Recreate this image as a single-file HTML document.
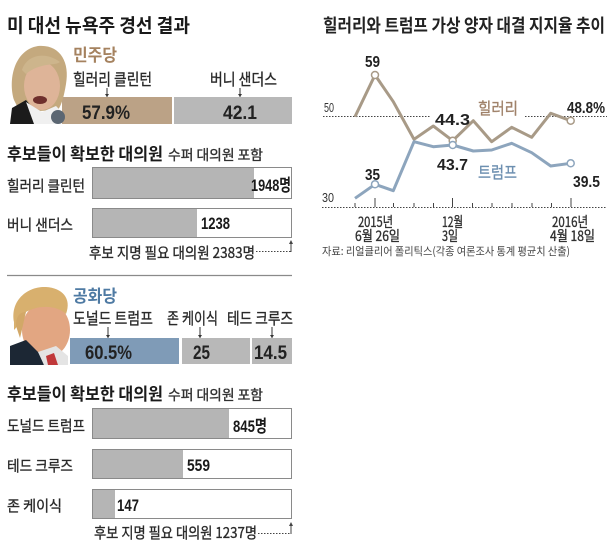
<!DOCTYPE html>
<html><head><meta charset="utf-8"><style>
html,body{margin:0;padding:0;background:#fff;}
svg{display:block;}
text{font-family:"Liberation Sans","Noto Sans CJK KR",sans-serif;}
.k{font-family:"Noto Sans CJK KR","Liberation Sans",sans-serif;}
.m{stroke:#2a2a2a;stroke-width:0.35px;}
</style></head><body>
<svg width="616" height="555" viewBox="0 0 616 555" xmlns="http://www.w3.org/2000/svg">
<rect width="616" height="555" fill="#fff"/>

<!-- LEFT TITLE -->
<text class="k" x="7" y="32" font-size="19" font-weight="bold" fill="#1a1a1a" textLength="183" lengthAdjust="spacingAndGlyphs">미 대선 뉴욕주 경선 결과</text>

<!-- Democratic bars -->
<rect x="62" y="97" width="110" height="27" fill="#bba286"/>
<rect x="174" y="97" width="118" height="27" fill="#b8b8b8"/>
<!-- Hillary photo -->
<g>
<path d="M14 100 C8 80 14 50 38 46 C60 44 70 62 66 84 C64 96 62 104 58 110 L20 112 Z" fill="#c4a97e"/>
<ellipse cx="42" cy="86" rx="18" ry="24" fill="#deb498"/>
<path d="M22 70 C26 56 44 50 60 62 C56 66 40 62 26 74 Z" fill="#cdb58c"/>
<ellipse cx="40" cy="100" rx="7" ry="4" fill="#6e2f2c"/>
<path d="M10 124 L12 108 L26 100 L36 112 L34 124 Z" fill="#1b1b1b"/>
<path d="M26 102 L42 112 L56 106 L62 112 L56 124 L34 124 Z" fill="#f0f0f0"/>
<ellipse cx="58" cy="117" rx="7" ry="7" fill="#5b6672"/>
</g>
<text class="k" x="73" y="61" font-size="17" font-weight="bold" fill="#a5825f" textLength="44" lengthAdjust="spacingAndGlyphs">민주당</text>
<text class="k m" x="73" y="85" font-size="16" fill="#2a2a2a" textLength="79" lengthAdjust="spacingAndGlyphs">힐러리 클린턴</text>
<text class="k m" x="210" y="85" font-size="16" fill="#2a2a2a" textLength="67" lengthAdjust="spacingAndGlyphs">버니 샌더스</text>
<line x1="107" y1="88" x2="107" y2="97" stroke="#333" stroke-width="1"/>
<path d="M105 94 L109 94 L107 97 Z" fill="#333"/>
<line x1="240" y1="88" x2="240" y2="97" stroke="#333" stroke-width="1"/>
<path d="M238 94 L242 94 L240 97 Z" fill="#333"/>
<text x="82" y="119" font-size="19" font-weight="bold" fill="#222" textLength="48" lengthAdjust="spacingAndGlyphs">57.9%</text>
<text x="223" y="119" font-size="19" font-weight="bold" fill="#222" textLength="34" lengthAdjust="spacingAndGlyphs">42.1</text>

<!-- Delegates (Dem) -->
<text class="k" x="7" y="160" font-size="17" font-weight="bold" fill="#1a1a1a" textLength="156" lengthAdjust="spacingAndGlyphs">후보들이 확보한 대의원</text>
<text class="k m" x="168" y="160" font-size="14" fill="#333" textLength="95" lengthAdjust="spacingAndGlyphs">수퍼 대의원 포함</text>

<rect x="92.5" y="167.5" width="199" height="31" fill="#fff" stroke="#8a8a8a" stroke-width="1"/>
<rect x="93" y="168" width="161" height="30" fill="#b5b5b5"/>
<text class="k m" x="7" y="191" font-size="15" fill="#2a2a2a" textLength="78" lengthAdjust="spacingAndGlyphs">힐러리 클린턴</text>
<text x="251" y="191" font-size="17" font-weight="bold" fill="#1a1a1a" textLength="40" lengthAdjust="spacingAndGlyphs">1948명</text>

<rect x="92.5" y="208.5" width="199" height="29" fill="#fff" stroke="#8a8a8a" stroke-width="1"/>
<rect x="93" y="209" width="104" height="28" fill="#b5b5b5"/>
<text class="k m" x="7" y="230" font-size="15" fill="#2a2a2a" textLength="66" lengthAdjust="spacingAndGlyphs">버니 샌더스</text>
<text x="201" y="229" font-size="17" font-weight="bold" fill="#1a1a1a" textLength="29" lengthAdjust="spacingAndGlyphs">1238</text>

<text class="k m" x="89" y="258" font-size="15" fill="#2a2a2a" textLength="166" lengthAdjust="spacingAndGlyphs">후보 지명 필요 대의원 2383명</text>
<line x1="256" y1="251.5" x2="291" y2="251.5" stroke="#444" stroke-width="1" stroke-dasharray="1.5,1.5"/>
<line x1="291" y1="252" x2="291" y2="241" stroke="#444" stroke-width="1"/>
<path d="M289 244 L293 244 L291 240 Z" fill="#444"/>

<!-- separator -->
<line x1="7" y1="275.5" x2="292" y2="275.5" stroke="#8a8a8a" stroke-width="1.2"/>

<!-- Republican bars -->
<rect x="70" y="338" width="109" height="26" fill="#7f9bb7"/>
<rect x="182" y="338" width="68" height="26" fill="#b8b8b8"/>
<rect x="252" y="338" width="40" height="26" fill="#b8b8b8"/>
<!-- Trump photo -->
<g>
<ellipse cx="46" cy="330" rx="24" ry="28" fill="#e2a682"/>
<path d="M14 322 C10 300 28 286 46 287 C62 288 72 298 66 314 C58 306 40 304 26 312 C22 318 18 326 14 330 Z" fill="#d8b06e"/>
<path d="M16 326 C16 316 20 312 26 312 C24 320 22 330 20 338 Z" fill="#d2a868"/>
<path d="M10 365 L10 346 L26 340 L40 354 L44 365 Z" fill="#1c2734"/>
<path d="M38 352 L56 346 L68 356 L68 365 L44 365 Z" fill="#e4e4e4"/>
<path d="M46 356 L54 353 L58 365 L48 365 Z" fill="#c0383a"/>
</g>
<text class="k" x="73" y="302" font-size="17" font-weight="bold" fill="#4e7aa3" textLength="44" lengthAdjust="spacingAndGlyphs">공화당</text>
<text class="k m" x="73" y="324" font-size="16" fill="#2a2a2a" textLength="80" lengthAdjust="spacingAndGlyphs">도널드 트럼프</text>
<text class="k m" x="167" y="324" font-size="16" fill="#2a2a2a" textLength="51" lengthAdjust="spacingAndGlyphs">존 케이식</text>
<text class="k m" x="227" y="324" font-size="16" fill="#2a2a2a" textLength="66" lengthAdjust="spacingAndGlyphs">테드 크루즈</text>
<line x1="108" y1="327" x2="108" y2="338" stroke="#333"/>
<path d="M106 335 L110 335 L108 338 Z" fill="#333"/>
<line x1="200" y1="327" x2="200" y2="338" stroke="#333"/>
<path d="M198 335 L202 335 L200 338 Z" fill="#333"/>
<line x1="272" y1="327" x2="272" y2="338" stroke="#333"/>
<path d="M270 335 L274 335 L272 338 Z" fill="#333"/>
<text x="85" y="359" font-size="19" font-weight="bold" fill="#222" textLength="47" lengthAdjust="spacingAndGlyphs">60.5%</text>
<text x="193" y="359" font-size="19" font-weight="bold" fill="#222" textLength="17" lengthAdjust="spacingAndGlyphs">25</text>
<text x="254" y="359" font-size="19" font-weight="bold" fill="#222" textLength="33" lengthAdjust="spacingAndGlyphs">14.5</text>

<!-- Delegates (Rep) -->
<text class="k" x="7" y="400" font-size="17" font-weight="bold" fill="#1a1a1a" textLength="156" lengthAdjust="spacingAndGlyphs">후보들이 확보한 대의원</text>
<text class="k m" x="168" y="400" font-size="14" fill="#333" textLength="95" lengthAdjust="spacingAndGlyphs">수퍼 대의원 포함</text>

<rect x="92.5" y="408.5" width="199" height="30" fill="#fff" stroke="#8a8a8a"/>
<rect x="93" y="409" width="136" height="29" fill="#b5b5b5"/>
<text class="k m" x="7" y="431" font-size="15" fill="#2a2a2a" textLength="78" lengthAdjust="spacingAndGlyphs">도널드 트럼프</text>
<text x="233" y="432" font-size="17" font-weight="bold" fill="#1a1a1a" textLength="34" lengthAdjust="spacingAndGlyphs">845명</text>

<rect x="92.5" y="449.5" width="199" height="29" fill="#fff" stroke="#8a8a8a"/>
<rect x="93" y="450" width="90" height="28" fill="#b5b5b5"/>
<text class="k m" x="7" y="471" font-size="15" fill="#2a2a2a" textLength="66" lengthAdjust="spacingAndGlyphs">테드 크루즈</text>
<text x="187" y="471" font-size="17" font-weight="bold" fill="#1a1a1a" textLength="23" lengthAdjust="spacingAndGlyphs">559</text>

<rect x="92.5" y="489.5" width="199" height="29" fill="#fff" stroke="#8a8a8a"/>
<rect x="93" y="490" width="22" height="28" fill="#b5b5b5"/>
<text class="k m" x="7" y="511" font-size="15" fill="#2a2a2a" textLength="55" lengthAdjust="spacingAndGlyphs">존 케이식</text>
<text x="117" y="511" font-size="17" font-weight="bold" fill="#1a1a1a" textLength="22" lengthAdjust="spacingAndGlyphs">147</text>

<text class="k m" x="94" y="538" font-size="15" fill="#2a2a2a" textLength="163" lengthAdjust="spacingAndGlyphs">후보 지명 필요 대의원 1237명</text>
<line x1="258" y1="533.5" x2="291" y2="533.5" stroke="#444" stroke-dasharray="1.5,1.5"/>
<line x1="291" y1="534" x2="291" y2="523" stroke="#444"/>
<path d="M289 526 L293 526 L291 522 Z" fill="#444"/>

<!-- RIGHT CHART -->
<text class="k" x="323" y="32" font-size="18" font-weight="bold" fill="#222" textLength="282" lengthAdjust="spacingAndGlyphs">힐러리와 트럼프 가상 양자 대결 지지율 추이</text>

<!-- 50 dashed ref line -->
<line x1="323" y1="116.5" x2="430" y2="116.5" stroke="#444" stroke-dasharray="1.5,1.5"/>
<line x1="525" y1="116.5" x2="607" y2="116.5" stroke="#444" stroke-dasharray="1.5,1.5"/>
<text x="324" y="112" font-size="13" fill="#333" textLength="10" lengthAdjust="spacingAndGlyphs">50</text>

<!-- axis -->
<line x1="322" y1="207.5" x2="607" y2="207.5" stroke="#444" stroke-dasharray="1.5,1.5"/>
<text x="322" y="202" font-size="13" fill="#333" textLength="12" lengthAdjust="spacingAndGlyphs">30</text>
<g stroke="#444" stroke-width="1">
<line x1="355" y1="203" x2="355" y2="207"/>
<line x1="375" y1="198" x2="375" y2="207"/>
<line x1="393.5" y1="203" x2="393.5" y2="207"/>
<line x1="414" y1="203" x2="414" y2="207"/>
<line x1="433.5" y1="203" x2="433.5" y2="207"/>
<line x1="452.5" y1="198" x2="452.5" y2="207"/>
<line x1="472.5" y1="203" x2="472.5" y2="207"/>
<line x1="492" y1="203" x2="492" y2="207"/>
<line x1="512" y1="203" x2="512" y2="207"/>
<line x1="532" y1="203" x2="532" y2="207"/>
<line x1="551.5" y1="203" x2="551.5" y2="207"/>
<line x1="571" y1="198" x2="571" y2="207"/>
</g>

<!-- Hillary line -->
<polyline points="355,116.7 375,75 393.3,101.7 414,139.3 433.3,126 452.7,140.7 473.3,120.7 491.7,141.7 511.7,127.3 531.7,137.3 550.7,113.3 570.7,120.7" fill="none" stroke="#a89a87" stroke-width="3" stroke-linejoin="round"/>
<!-- Trump line -->
<polyline points="355,198.3 375,184.3 393.3,190.7 414,141.7 433.3,146.7 452.7,145 473.3,151 491.7,150 511.7,143.3 531.7,152.7 550.7,166 570.7,163.3" fill="none" stroke="#8da5bd" stroke-width="3" stroke-linejoin="round"/>
<g fill="#fff" stroke-width="1.5">
<circle cx="375" cy="75" r="3.5" stroke="#a89a87"/>
<circle cx="452.7" cy="140.7" r="3.5" stroke="#a89a87"/>
<circle cx="570.7" cy="120.7" r="3.5" stroke="#a89a87"/>
<circle cx="375" cy="184.3" r="3.5" stroke="#8da5bd"/>
<circle cx="452.7" cy="145" r="3.5" stroke="#8da5bd"/>
<circle cx="570.7" cy="163.3" r="3.5" stroke="#8da5bd"/>
</g>

<text x="365" y="67" font-size="16" font-weight="bold" fill="#222" textLength="15" lengthAdjust="spacingAndGlyphs">59</text>
<text class="k" x="478" y="114" font-size="16" fill="#a0826a" stroke="#a0826a" stroke-width="0.35" textLength="40" lengthAdjust="spacingAndGlyphs">힐러리</text>
<text x="435" y="125" font-size="16" font-weight="bold" fill="#222" textLength="35" lengthAdjust="spacingAndGlyphs">44.3</text>
<text x="567" y="113" font-size="16" font-weight="bold" fill="#222" textLength="38" lengthAdjust="spacingAndGlyphs">48.8%</text>
<text x="365" y="180" font-size="16" font-weight="bold" fill="#222" textLength="15" lengthAdjust="spacingAndGlyphs">35</text>
<text x="437" y="170" font-size="16" font-weight="bold" fill="#222" textLength="31" lengthAdjust="spacingAndGlyphs">43.7</text>
<text class="k" x="478" y="178" font-size="16" fill="#6d8fb0" stroke="#6d8fb0" stroke-width="0.35" textLength="39" lengthAdjust="spacingAndGlyphs">트럼프</text>
<text x="573" y="187" font-size="16" font-weight="bold" fill="#222" textLength="27" lengthAdjust="spacingAndGlyphs">39.5</text>

<text class="k m" x="358" y="227" font-size="14" fill="#333" textLength="35" lengthAdjust="spacingAndGlyphs">2015년</text>
<text class="k m" x="355" y="241" font-size="14" fill="#333" textLength="45" lengthAdjust="spacingAndGlyphs">6월 26일</text>
<text class="k m" x="442" y="227" font-size="14" fill="#333" textLength="21" lengthAdjust="spacingAndGlyphs">12월</text>
<text class="k m" x="442" y="241" font-size="14" fill="#333" textLength="16" lengthAdjust="spacingAndGlyphs">3일</text>
<text class="k m" x="552" y="227" font-size="14" fill="#333" textLength="36" lengthAdjust="spacingAndGlyphs">2016년</text>
<text class="k m" x="550" y="241" font-size="14" fill="#333" textLength="45" lengthAdjust="spacingAndGlyphs">4월 18일</text>
<text class="k" x="322" y="255" font-size="11" fill="#444" textLength="248" lengthAdjust="spacingAndGlyphs">자료: 리얼클리어 폴리틱스(각종 여론조사 통계 평균치 산출)</text>
</svg>
</body></html>
